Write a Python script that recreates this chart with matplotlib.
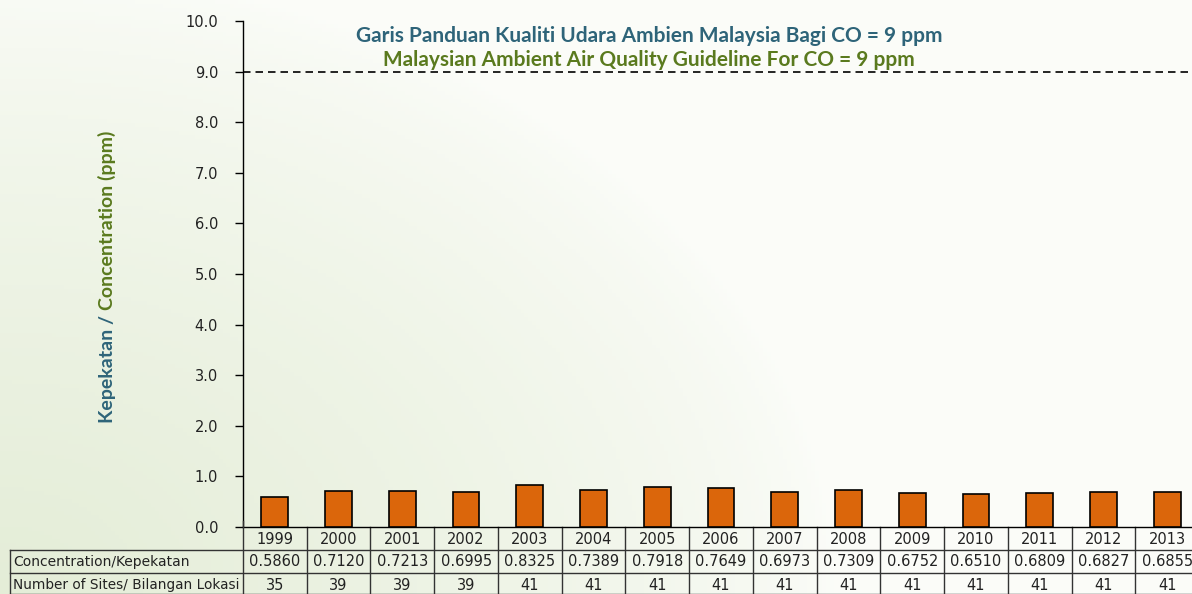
import matplotlib.pyplot as plt
import matplotlib.transforms as mtransforms
import numpy as np

years = ['1999', '2000', '2001', '2002', '2003', '2004', '2005', '2006',
         '2007', '2008', '2009', '2010', '2011', '2012', '2013']
conc = [0.5860, 0.7120, 0.7213, 0.6995, 0.8325, 0.7389, 0.7918, 0.7649,
        0.6973, 0.7309, 0.6752, 0.6510, 0.6809, 0.6827, 0.6855]
sites = [35, 39, 39, 39, 41, 41, 41, 41, 41, 41, 41, 41, 41, 41, 41]
guideline = 9.0

row_labels = ['Concentration/Kepekatan', 'Number of Sites/ Bilangan Lokasi']
title1 = 'Garis Panduan Kualiti Udara Ambien Malaysia Bagi CO = 9 ppm'
title2 = 'Malaysian Ambient Air Quality Guideline For CO = 9 ppm'

blue = '#2E6479'
green = '#5A7A1E'
orange = '#DB660B'

W, H = 1192, 594
fig = plt.figure(figsize=(W / 100, H / 100), dpi=100)

# background gradient (light green from lower left)
bg = fig.add_axes([0, 0, 1, 1], zorder=-5)
xx, yy = np.meshgrid(np.linspace(0, 1, 300), np.linspace(0, 1, 150))
t = np.clip(1 - np.sqrt((xx / 0.7) ** 2 + (yy / 1.05) ** 2), 0, 1) ** 0.7
c0 = np.array([0.985, 0.99, 0.975])
c1 = np.array([0.895, 0.93, 0.845])
img = c0[None, None, :] * (1 - t[..., None]) + c1[None, None, :] * t[..., None]
bg.imshow(img, origin='lower', extent=[0, 1, 0, 1], aspect='auto')
bg.axis('off')


def fx(px):
    return px / W


def fy(py):
    return (H - py) / H


ax_l, ax_r, ax_t, ax_b = 243, 1199, 21, 527
ax = fig.add_axes([fx(ax_l), fy(ax_b), fx(ax_r - ax_l), (ax_b - ax_t) / H])
ax.set_facecolor('none')

x = np.arange(len(years))
ax.bar(x, conc, width=0.42, color=orange, edgecolor='black', linewidth=1.2, zorder=3)
ax.axhline(guideline, color='black', linestyle=(0, (4.5, 3)), linewidth=1.2)

ax.set_xlim(-0.5, len(years) - 0.5)
ax.set_ylim(0, 10)
ax.set_yticks(np.arange(0, 10.01, 1.0))
ax.set_yticklabels(['%.1f' % v for v in np.arange(0, 10.01, 1.0)])
ax.tick_params(axis='y', direction='out', length=6, width=1, labelsize=10.5,
               colors='black', labelcolor='#222222', pad=12)
ax.tick_params(axis='x', length=0, labelbottom=False)
for s in ['top', 'right']:
    ax.spines[s].set_visible(False)
ax.spines['left'].set_linewidth(1)
ax.spines['bottom'].set_linewidth(1)

# titles
fig.text(fx(649), fy(36), title1, color=blue, fontsize=15, fontweight='bold',
         family='Lato', ha='center', va='center')
fig.text(fx(649), fy(60), title2, color=green, fontsize=15, fontweight='bold',
         family='Lato', ha='center', va='center')

# two-coloured y label
t1 = fig.text(fx(107), fy(423), 'Kepekatan / ', color=blue, fontsize=14,
              fontweight='bold', family='Lato', rotation=90, ha='center', va='bottom')
fig.canvas.draw()
bb = t1.get_window_extent()
fig.text(fx(107), bb.y1 / H, 'Concentration (ppm)', color=green, fontsize=14,
         fontweight='bold', family='Lato', rotation=90, ha='center', va='bottom')

# data table below the axis
tr = mtransforms.blended_transform_factory(ax.transData, fig.transFigure)
lc = '#333333'
for b in np.arange(0.5, len(years) - 0.5, 1.0):
    ax.plot([b, b], [fy(527), fy(594)], transform=tr, color=lc, lw=1,
            clip_on=False)
fig.add_artist(plt.Line2D([fx(243), fx(243)], [fy(521), fy(594)], color=lc, lw=1))
fig.add_artist(plt.Line2D([fx(10), fx(10)], [fy(550), fy(594)], color=lc, lw=1))
for ry in [550, 573, 593.5]:
    fig.add_artist(plt.Line2D([fx(10), 1], [fy(ry), fy(ry)], color=lc, lw=1))

for i in range(len(years)):
    ax.text(i, fy(539), years[i], transform=tr, ha='center', va='center',
            fontsize=10.5, color='#222222')
    ax.text(i, fy(562), '%.4f' % conc[i], transform=tr, ha='center', va='center',
            fontsize=10.5, color='#222222')
    ax.text(i, fy(585), str(sites[i]), transform=tr, ha='center', va='center',
            fontsize=10.5, color='#222222')
fig.text(fx(13), fy(562), row_labels[0], ha='left', va='center', fontsize=10,
         color='#222222')
fig.text(fx(13), fy(585), row_labels[1], ha='left', va='center', fontsize=9.8,
         color='#222222')

fig.savefig('out.png', dpi=100)
